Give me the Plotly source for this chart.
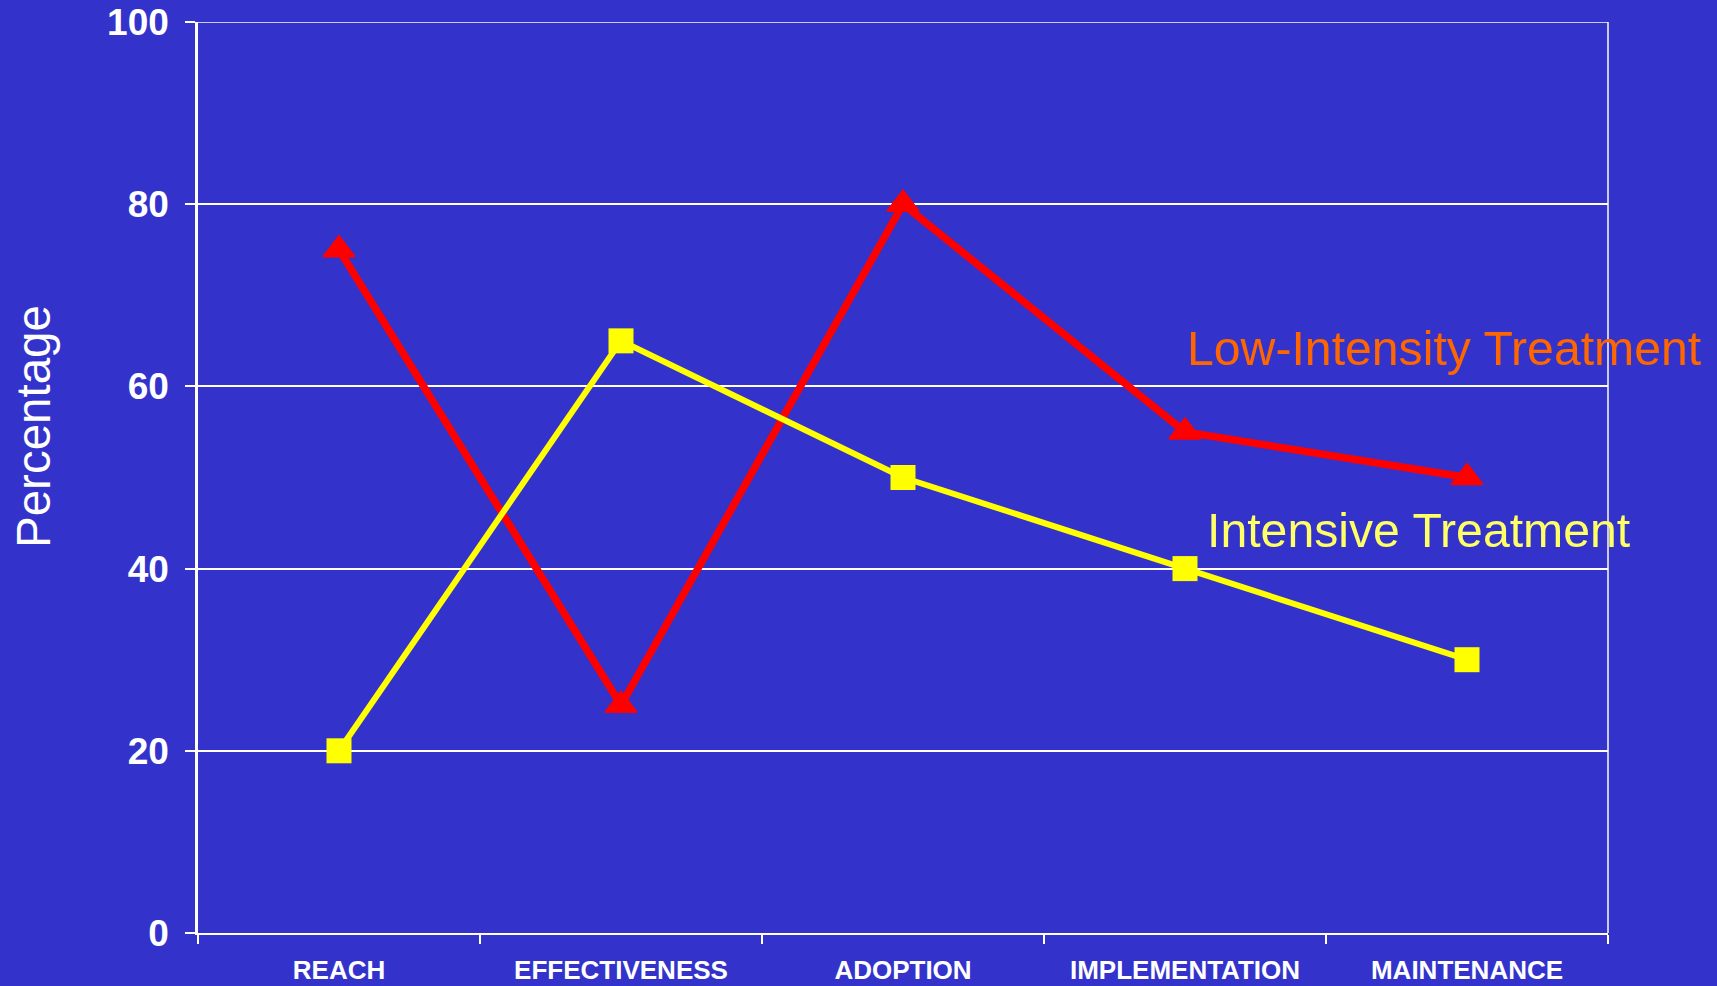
import plotly.graph_objects as go

categories = ["REACH", "EFFECTIVENESS", "ADOPTION", "IMPLEMENTATION", "MAINTENANCE"]
low_intensity = [75, 25, 80, 55, 50]
intensive = [20, 65, 50, 40, 30]
y_ticks = [0, 20, 40, 60, 80, 100]

BG = "#3333CC"
FONT = "Liberation Sans, Arial, sans-serif"

fig = go.Figure()
fig.add_trace(go.Scatter(
    x=categories, y=low_intensity, mode="lines+markers", name="Low-Intensity Treatment",
    line=dict(color="#FF0000", width=7.5),
    marker=dict(symbol="triangle-up", size=27, color="#FF0000",
                line=dict(color="#FF0000", width=2)),
))
fig.add_trace(go.Scatter(
    x=categories, y=intensive, mode="lines+markers", name="Intensive Treatment",
    line=dict(color="#FFFF00", width=6),
    marker=dict(symbol="square", size=25, color="#FFFF00"),
))

fig.update_layout(
    width=1717, height=986,
    paper_bgcolor=BG, plot_bgcolor=BG,
    margin=dict(l=198, r=109, t=22, b=53, autoexpand=False),
    showlegend=False,
    font=dict(family=FONT, color="white"),
)
fig.update_xaxes(
    type="category", range=[-0.5, 4.5], tickson="boundaries",
    ticks="outside", ticklen=9, tickcolor="white", tickwidth=1.5,
    showline=True, linecolor="white", linewidth=2, mirror=False,
    showgrid=False, zeroline=False, automargin=False, ticklabelstandoff=13,
    tickfont=dict(family=FONT, size=26, color="white", weight="bold"),
)
fig.update_yaxes(
    range=[0, 100], tickvals=y_ticks, ticks="outside", ticklen=10,
    tickcolor="white", tickwidth=1.5,
    showline=True, linecolor="white", linewidth=2.5,
    showgrid=True, gridcolor="white", gridwidth=1.5, zeroline=False,
    automargin=False, ticklabelstandoff=9,
    tickfont=dict(family=FONT, size=37, color="white", weight="bold"),
)
# right border and top gridline
fig.add_shape(type="line", xref="paper", yref="paper", x0=1, x1=1, y0=0, y1=1,
              line=dict(color="white", width=1.5))
fig.add_shape(type="line", xref="paper", yref="y", x0=0, x1=1, y0=100, y1=100,
              line=dict(color="white", width=1.5))

fig.add_annotation(text="Percentage", xref="paper", yref="paper",
                   x=(33 - 198) / 1410, y=(933 - 427) / 911, textangle=-90,
                   showarrow=False, xanchor="center", yanchor="middle",
                   font=dict(family=FONT, size=47.5, color="white"))
fig.add_annotation(text="Low-Intensity Treatment", xref="x", yref="y",
                   x=3, y=64.2, showarrow=False, xanchor="left", yanchor="middle",
                   font=dict(family=FONT, size=48.2, color="#FF6600"))
fig.add_annotation(text="Intensive Treatment", xref="x", yref="y",
                   x=3.07, y=44.2, showarrow=False, xanchor="left", yanchor="middle",
                   font=dict(family=FONT, size=48.2, color="#FFFF66"))

fig.write_html("out.html")
